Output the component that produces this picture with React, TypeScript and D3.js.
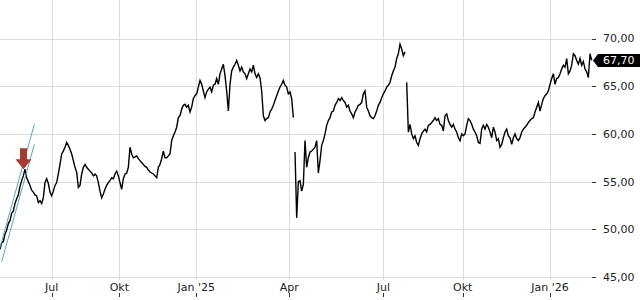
import React from 'react';
import * as d3 from 'd3';

// Closing prices, one value per session slot
const prices: number[] = [
  47.9, 48.6, 48.7, 49.5, 49.9, 50.6, 50.9, 51.7, 51.9, 52.7, 53.2, 53.6, 54.5, 55.1, 55.6, 56.3,
  55.4, 55.0, 54.6, 54.1, 53.9, 53.6, 53.5, 52.8, 53.0, 52.7, 53.3, 54.9, 55.3, 54.8, 53.9, 53.5,
  54.0, 54.6, 54.9, 55.8, 56.8, 57.9, 58.2, 58.6, 59.1, 58.8, 58.4, 57.9, 57.2, 56.5, 56.0, 54.4,
  54.6, 55.8, 56.5, 56.8, 56.5, 56.3, 56.1, 55.9, 55.6, 55.8, 55.6, 54.9, 54.0, 53.3, 53.7, 54.2,
  54.6, 54.9, 55.1, 55.4, 55.3, 55.8, 56.1, 55.6, 54.9, 54.2, 55.3, 55.8, 55.9, 56.5, 58.6, 57.9,
  57.5, 57.6, 57.7, 57.4, 57.2, 57.0, 56.8, 56.6, 56.5, 56.2, 56.0, 55.9, 55.8, 55.6, 55.4, 56.5,
  56.8, 57.4, 58.2, 57.5, 57.5, 57.7, 57.9, 59.3, 59.8, 60.2, 60.7, 61.7, 61.9, 62.6, 63.0, 63.1,
  62.8, 63.0, 62.3, 62.8, 63.7, 64.0, 64.2, 64.9, 65.6, 65.2, 64.5, 63.8, 64.4, 64.7, 64.9, 64.4,
  65.1, 65.2, 65.8, 65.2, 66.3, 66.8, 67.3, 66.1, 64.5, 62.4, 65.2, 66.6, 67.0, 67.3, 67.7, 67.2,
  66.6, 67.0, 66.5, 66.3, 65.8, 66.3, 66.8, 66.5, 67.2, 66.3, 65.9, 66.3, 65.9, 64.5, 61.9, 61.4,
  61.6, 61.7, 62.3, 62.6, 63.0, 63.5, 64.0, 64.5, 64.9, 65.2, 65.6, 65.1, 64.9, 64.2, 64.4, 63.7, 61.7,
  58.1, 51.2, 55.0, 55.1, 54.0, 54.7, 59.3, 56.5, 57.5, 58.1, 58.2, 58.4, 58.6, 59.3, 55.9, 57.2,
  58.8, 59.3, 60.0, 60.9, 61.4, 61.7, 62.3, 62.4, 63.0, 63.3, 63.7, 63.5, 63.8, 63.5, 63.3, 62.8,
  63.0, 62.4, 62.1, 61.7, 62.3, 62.6, 63.0, 63.1, 63.3, 64.2, 64.5, 62.8, 62.4, 61.9, 61.7, 61.6,
  61.9, 62.4, 63.0, 63.3, 63.8, 64.2, 64.5, 64.9, 65.1, 65.4, 66.1, 66.6, 67.0, 67.9, 68.4, 69.4, 68.9, 68.2, 68.6,
  65.4, 60.2, 61.0, 60.0, 59.5, 59.8, 59.1, 58.8, 59.5, 60.0, 60.3, 60.5, 60.2, 60.9, 61.0, 61.2,
  61.4, 61.7, 61.4, 61.6, 61.0, 60.9, 60.3, 61.9, 62.1, 61.4, 61.0, 60.7, 61.0, 60.5, 60.2, 59.6,
  59.3, 60.0, 59.8, 60.0, 60.9, 61.6, 61.4, 61.0, 60.5, 60.2, 59.8, 59.1, 59.0, 60.5, 60.9, 60.5,
  61.0, 60.7, 60.2, 59.6, 60.7, 60.2, 59.3, 59.5, 58.6, 58.9, 59.6, 60.2, 60.5, 59.8, 59.6, 58.9,
  59.6, 60.0, 59.5, 59.3, 59.6, 60.2, 60.5, 60.7, 60.9, 61.2, 61.4, 61.6, 61.7, 62.3, 62.8, 63.3,
  62.4, 63.1, 63.7, 64.0, 64.2, 64.5, 65.2, 65.8, 66.3, 65.2, 65.8, 65.9, 66.3, 66.8, 67.2, 67.0,
  67.9, 66.3, 66.6, 67.2, 68.4, 68.2, 67.7, 67.3, 67.9, 67.2, 67.6, 66.8, 66.5, 65.9, 68.4, 67.7,
];

// indices where the line restarts after a data gap
const segmentStarts: number[] = [0, 177, 244];

// x-axis ticks (session index) and labels
const tickIndex: number[] = [31, 71.6, 117.8, 173.6, 230, 277.6, 330];
const tickLabels: string[] = ['Jul', 'Okt', "Jan '25", 'Apr', 'Jul', 'Okt', "Jan '26"];

// y-axis ticks
const yTicks: number[] = [45, 50, 55, 60, 65, 70];

const lastPrice = 67.7;

// trend channel (index, value)
const channelUpper: [number, number][] = [[0, 48.1], [20.6, 61.0]];
const channelLower: [number, number][] = [[1, 46.6], [20.6, 58.9]];

// signal arrow (index, value at tip)
const signalIndex = 14.1;
const signalValue = 56.3;

const fmt = d3.formatLocale({ decimal: ',', thousands: '.', grouping: [3], currency: ['', '€'] }).format('.2f');

export default function App() {
  React.useEffect(() => {
    document.body.style.margin = '0';
  }, []);

  const W = 640;
  const H = 300;
  const plotRight = 592;
  const x = d3.scaleLinear().domain([0, prices.length - 1]).range([0, 591.7]);
  const y = d3.scaleLinear().domain([45, 70]).range([277, 38.5]);

  const line = d3
    .line<[number, number]>()
    .x((d) => x(d[0]))
    .y((d) => y(d[1]));

  const segments: [number, number][][] = segmentStarts.map((s, i) => {
    const e = i + 1 < segmentStarts.length ? segmentStarts[i + 1] : prices.length;
    const pts: [number, number][] = [];
    for (let k = s; k < e; k++) pts.push([k, prices[k]]);
    return pts;
  });

  const tx = x(signalIndex);
  const ty = y(signalValue);
  const arrowPath = `M${tx - 3.5},${ty - 21} L${tx + 3.5},${ty - 21} L${tx + 3.5},${ty - 10} L${tx + 8},${ty - 10} L${tx},${ty} L${tx - 8},${ty - 10} L${tx - 3.5},${ty - 10} Z`;

  const ly = y(lastPrice);

  return (
    <svg
      width={W}
      height={H}
      style={{ position: 'absolute', left: 0, top: 0, background: '#fff' }}
      fontFamily="DejaVu Sans, sans-serif"
    >
      {/* horizontal grid */}
      {yTicks.map((t) => (
        <line key={'h' + t} x1={0} x2={plotRight} y1={Math.round(y(t)) + 0.5} y2={Math.round(y(t)) + 0.5} stroke="#dcdcdc" strokeWidth={1} />
      ))}
      {/* vertical grid */}
      {tickIndex.map((t, i) => (
        <line key={'v' + i} x1={Math.round(x(t)) + 0.5} x2={Math.round(x(t)) + 0.5} y1={0} y2={280} stroke="#dcdcdc" strokeWidth={1} />
      ))}

      {/* price line */}
      {segments.map((seg, i) => (
        <path key={'s' + i} d={line(seg) || ''} fill="none" stroke="#000" strokeWidth={1.4} strokeLinejoin="miter" />
      ))}

      {/* trend channel */}
      <path d={line(channelUpper) || ''} stroke="#5aa8b1" strokeWidth={1} fill="none" />
      <path d={line(channelLower) || ''} stroke="#5aa8b1" strokeWidth={1} fill="none" />

      {/* signal arrow */}
      <path d={arrowPath} fill="#a43c33" />

      {/* y axis */}
      {yTicks.map((t) => (
        <g key={'y' + t}>
          <line x1={592} x2={596} y1={Math.round(y(t)) + 0.5} y2={Math.round(y(t)) + 0.5} stroke="#333" strokeWidth={1} />
          <text x={603} y={y(t)} dy="0.36em" fontSize={11} fill="#222">
            {fmt(t)}
          </text>
        </g>
      ))}

      {/* x axis */}
      {tickIndex.map((t, i) => (
        <g key={'x' + i}>
          <text x={x(t)} y={291} textAnchor="middle" fontSize={11} fill="#222">
            {tickLabels[i]}
          </text>
          <line x1={Math.round(x(t)) + 0.5} x2={Math.round(x(t)) + 0.5} y1={293} y2={297} stroke="#333" strokeWidth={1} />
        </g>
      ))}

      {/* last price label */}
      <path d={`M593,${ly} L598,${ly - 6.5} L640,${ly - 6.5} L640,${ly + 6.5} L598,${ly + 6.5} Z`} fill="#000" />
      <text x={603} y={ly} dy="0.36em" fontSize={11} fill="#fff">
        {fmt(lastPrice)}
      </text>
    </svg>
  );
}
